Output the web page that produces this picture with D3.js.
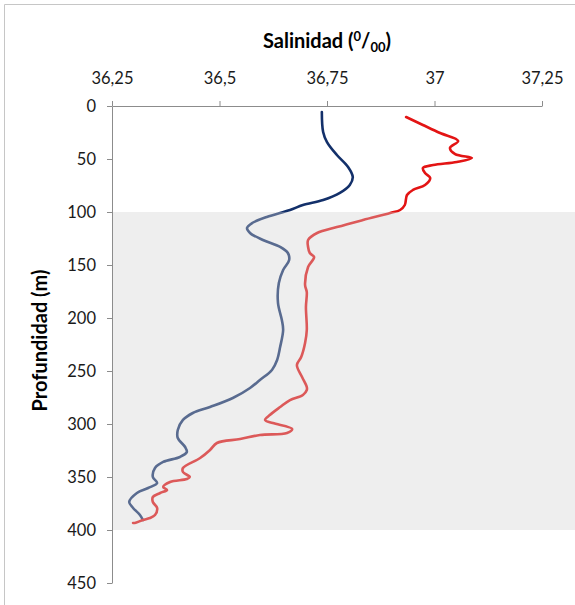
<!DOCTYPE html>
<html>
<head>
<meta charset="utf-8">
<script src="https://cdn.jsdelivr.net/npm/d3@7/dist/d3.min.js"></script>
<style>
  html, body { margin: 0; padding: 0; background: #fff; }
  svg { display: block; font-family: Lato, "Open Sans", sans-serif; }
</style>
</head>
<body>
<svg id="chart" width="575" height="605"></svg>
<script>
// Salinity profiles (‰) against depth (m)
const darkDepths = [5.7, 24.5, 34, 46.2, 57.5, 67, 74.5, 82, 88.7, 93.4, 98.1, 104.7, 110.4, 115.1, 119.8,
  126.4, 133, 138.7, 145.3, 154.7, 167, 185.8, 201.9, 211.3, 227.4, 239.6, 249, 258.5, 266, 275.5,
  284, 289.6, 296.2, 305.7, 313.2, 321.7, 326.4, 331.1, 335.8, 341.5, 350, 355.7, 360.4, 365.1,
  373.6, 379.2, 385.8, 390.6];
const darkSalinity = [36.738, 36.741, 36.750, 36.773, 36.799, 36.810, 36.803, 36.780, 36.741, 36.694,
  36.664, 36.610, 36.576, 36.564, 36.571, 36.601, 36.641, 36.659, 36.662, 36.648, 36.638, 36.636,
  36.645, 36.648, 36.641, 36.634, 36.622, 36.594, 36.571, 36.531, 36.478, 36.438, 36.415, 36.403,
  36.403, 36.420, 36.424, 36.408, 36.369, 36.350, 36.345, 36.355, 36.334, 36.308, 36.290, 36.299,
  36.315, 36.322];

const redDepths = [10.4, 17.9, 25.5, 33, 39.6, 45.3, 49.1, 52.8, 55.7, 58.5, 63.2, 67.9, 74.5, 79.2, 84,
  93.4, 98.1, 100.9, 107.5, 114.2, 119.8, 126.4, 133, 138.7, 142.5, 151.9, 168.9, 175.5, 189.6,
  211.3, 223.6, 236.8, 244.3, 255.7, 265.1, 267.9, 272.6, 277.4, 284, 291.5, 296.2, 299.1, 304.7,
  308.5, 310.4, 314.2, 317.9, 324.5, 332.1, 341.5, 345.3, 350, 351.9, 354.7, 359.4, 362.3, 365.1,
  368.9, 373.6, 379.2, 385.8, 388.7, 390.6, 393.4, 393.4];
const redSalinity = [36.934, 36.973, 37.013, 37.055, 37.036, 37.048, 37.087, 37.052, 36.997, 36.973,
  36.978, 36.990, 36.978, 36.950, 36.936, 36.931, 36.920, 36.897, 36.834, 36.773, 36.727, 36.706,
  36.706, 36.710, 36.720, 36.706, 36.699, 36.703, 36.701, 36.703, 36.699, 36.690, 36.680, 36.692,
  36.703, 36.703, 36.694, 36.664, 36.641, 36.617, 36.606, 36.624, 36.669, 36.657, 36.594, 36.548,
  36.494, 36.478, 36.455, 36.415, 36.415, 36.431, 36.424, 36.385, 36.369, 36.378, 36.362, 36.345,
  36.345, 36.355, 36.350, 36.338, 36.322, 36.303, 36.299];

const salinityTicks = [36.25, 36.5, 36.75, 37, 37.25];
const salinityTickLabels = ["36,25", "36,5", "36,75", "37", "37,25"];
const depthTicks = [0, 50, 100, 150, 200, 250, 300, 350, 400, 450];
const bandDepths = [100, 400];

const svg = d3.select("#chart");
const plotLeft = 112, plotRight = 542, plotTop = 106, plotBottom = 583;

const x = d3.scaleLinear().domain([36.25, 37.25]).range([plotLeft, plotRight]);
const y = d3.scaleLinear().domain([0, 450]).range([plotTop, plotBottom]);

// outer frame (top and left edges)
svg.append("path")
  .attr("d", "M4.5,605 L4.5,4.5 L575,4.5")
  .attr("fill", "none").attr("stroke", "#c6c6c6").attr("stroke-width", 1);

// profiles
const line = d3.line()
  .x(d => x(d[1]))
  .y(d => y(d[0]))
  .curve(d3.curveCatmullRom.alpha(0.5));

svg.append("path")
  .datum(darkDepths.map((d, i) => [d, darkSalinity[i]]))
  .attr("d", line)
  .attr("fill", "none").attr("stroke", "#13306a").attr("stroke-width", 2.6)
  .attr("stroke-linecap", "round").attr("stroke-linejoin", "round");

svg.append("path")
  .datum(redDepths.map((d, i) => [d, redSalinity[i]]))
  .attr("d", line)
  .attr("fill", "none").attr("stroke", "#e31414").attr("stroke-width", 2.6)
  .attr("stroke-linecap", "round").attr("stroke-linejoin", "round");

// translucent shaded depth band over the profiles
svg.append("rect")
  .attr("x", plotLeft).attr("y", y(bandDepths[0]))
  .attr("width", 575 - plotLeft).attr("height", y(bandDepths[1]) - y(bandDepths[0]))
  .attr("fill", "rgb(210,210,210)").attr("fill-opacity", 0.37);

// top axis
const xAxis = d3.axisTop(x).tickValues(salinityTicks)
  .tickFormat((d, i) => salinityTickLabels[i]).tickSize(5).tickSizeOuter(0).tickPadding(17);
const gx = svg.append("g").attr("transform", `translate(0,${plotTop})`).call(xAxis);

// left axis
const yAxis = d3.axisLeft(y).tickValues(depthTicks).tickSize(5).tickSizeOuter(0).tickPadding(11);
const gy = svg.append("g").attr("transform", `translate(${plotLeft},0)`).call(yAxis);

[gx, gy].forEach(g => {
  g.select(".domain").attr("stroke", "#8c8c8c");
  g.selectAll(".tick line").attr("stroke", "#8c8c8c");
  g.selectAll(".tick text").attr("fill", "#1a1a1a").style("font-size", "16.5px")
    .style("font-family", "Lato, 'Open Sans', sans-serif");
});

// axis titles
const title = svg.append("text")
  .attr("x", 327).attr("y", 48).attr("text-anchor", "middle")
  .attr("font-weight", "bold").attr("font-size", 20).attr("fill", "#000");
title.append("tspan").text("Salinidad (");
title.append("tspan").text("0").attr("font-size", 13).attr("dy", -7);
title.append("tspan").text("/").attr("dy", 7);
title.append("tspan").text("00").attr("font-size", 13).attr("dy", 4);
title.append("tspan").text(")").attr("dy", -4);

svg.append("text")
  .attr("transform", `translate(47,${(plotTop + plotBottom) / 2 - 4}) rotate(-90)`)
  .attr("text-anchor", "middle")
  .attr("font-weight", "bold").attr("font-size", 20).attr("fill", "#000")
  .text("Profundidad (m)");
</script>
</body>
</html>
